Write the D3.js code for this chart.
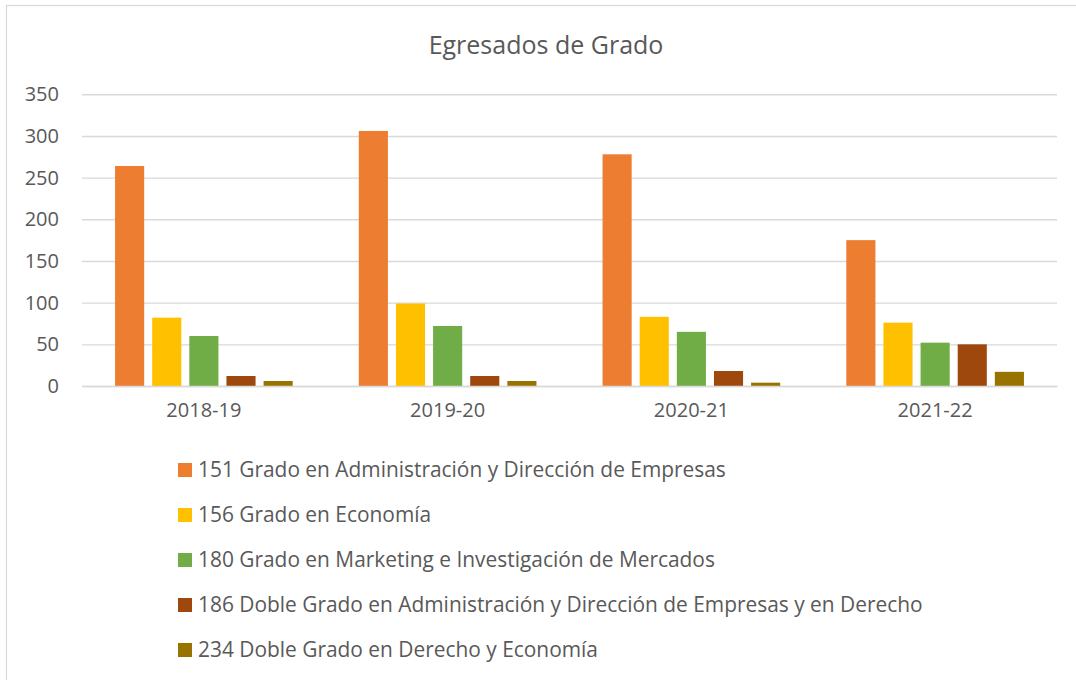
<!DOCTYPE html>
<html>
<head>
<meta charset="utf-8">
<script src="https://cdn.jsdelivr.net/npm/d3@7"></script>
<style>
	body { margin: 0; background: #fff; }
	text { font-family: "Open Sans", "Noto Sans", sans-serif; fill: #595959; }
</style>
</head>
<body>
<div id="chart"></div>
<script>
// academic years on the x axis
var years = ["2018-19", "2019-20", "2020-21", "2021-22"];

// degree names (legend order)
var degrees = [
	"151 Grado en Administración y Dirección de Empresas",
	"156 Grado en Economía",
	"180 Grado en Marketing e Investigación de Mercados",
	"186 Doble Grado en Administración y Dirección de Empresas y en Derecho",
	"234 Doble Grado en Derecho y Economía"
];

// graduates per degree, one value per year
var ade = [264, 306, 278, 175];
var economia = [82, 99, 83, 76];
var marketing = [60, 72, 65, 52];
var adeDerecho = [12, 12, 18, 50];
var derechoEconomia = [6, 6, 4, 17];

var yTicks = [0, 50, 100, 150, 200, 250, 300, 350];
var colors = ["#ED7D31", "#FFC000", "#70AD47", "#9E480E", "#997300"];

var series = [ade, economia, marketing, adeDerecho, derechoEconomia];

// helpful variables
var W = 1076,
	H = 680,
	plot = { left: 82, right: 1057, top: 94.3, bottom: 386 };

var svg = d3.select("#chart")
	.append("svg")
	.attr("width", W)
	.attr("height", H);

// chart frame (runs off the right and bottom of the picture)
svg.append("rect")
	.attr("x", 6.5)
	.attr("y", 5.5)
	.attr("width", W + 20)
	.attr("height", H + 20)
	.style("fill", "none")
	.style("stroke", "#d9d9d9")
	.style("stroke-width", 1.2);

// title
svg.append("text")
	.attr("x", 546)
	.attr("y", 53.5)
	.style("text-anchor", "middle")
	.style("font-size", "25px")
	.text("Egresados de Grado");

// scales
var x0 = d3.scaleBand()
	.domain(years)
	.range([plot.left, plot.right]);

var x1 = d3.scaleBand()
	.domain(d3.range(degrees.length))
	.range([0, x0.bandwidth()])
	.paddingInner(0.216)
	.paddingOuter(0.89);

var y = d3.scaleLinear()
	.domain([0, 350])
	.range([plot.bottom, plot.top]);

// y axis: labels plus horizontal gridlines
var yAxis = svg.append("g")
	.attr("transform", "translate(" + plot.left + ",0)")
	.call(d3.axisLeft(y).tickValues(yTicks).tickSize(-(plot.right - plot.left)).tickPadding(23));

yAxis.select(".domain").remove();
yAxis.selectAll(".tick line")
	.style("stroke", "#d9d9d9")
	.style("stroke-width", 1.4);
yAxis.selectAll(".tick text")
	.style("font-size", "20px")
	.style("font-family", "'Open Sans', sans-serif")
	.attr("fill", "#595959");

// bars
var groups = svg.selectAll(".year")
	.data(years)
	.enter().append("g")
	.attr("class", "year")
	.attr("transform", function(d) {
		return "translate(" + x0(d) + ",0)";
	});

groups.selectAll("rect")
	.data(function(d, i) {
		return series.map(function(s, k) {
			return { k: k, value: s[i] };
		});
	})
	.enter().append("rect")
	.attr("x", function(d) { return x1(d.k); })
	.attr("y", function(d) { return y(d.value); })
	.attr("width", x1.bandwidth())
	.attr("height", function(d) { return y(0) - y(d.value); })
	.style("fill", function(d) { return colors[d.k]; });

// x axis labels
var xAxis = svg.append("g")
	.attr("transform", "translate(0," + plot.bottom + ")")
	.call(d3.axisBottom(x0).tickSize(0).tickPadding(17));

xAxis.select(".domain")
	.style("stroke", "#d9d9d9")
	.style("stroke-width", 1.4);
xAxis.selectAll(".tick text")
	.style("font-size", "20px")
	.style("font-family", "'Open Sans', sans-serif")
	.attr("fill", "#595959");

// legend
var legend = svg.selectAll(".legend")
	.data(degrees)
	.enter().append("g")
	.attr("class", "legend")
	.attr("transform", function(d, i) {
		return "translate(178," + (470 + i * 45) + ")";
	});

legend.append("rect")
	.attr("x", 0)
	.attr("y", -7)
	.attr("width", 14)
	.attr("height", 14)
	.style("fill", function(d, i) { return colors[i]; });

legend.append("text")
	.attr("x", 20)
	.attr("y", 0)
	.attr("dy", ".35em")
	.style("font-size", "20.9px")
	.text(function(d) { return d; });
</script>
</body>
</html>
